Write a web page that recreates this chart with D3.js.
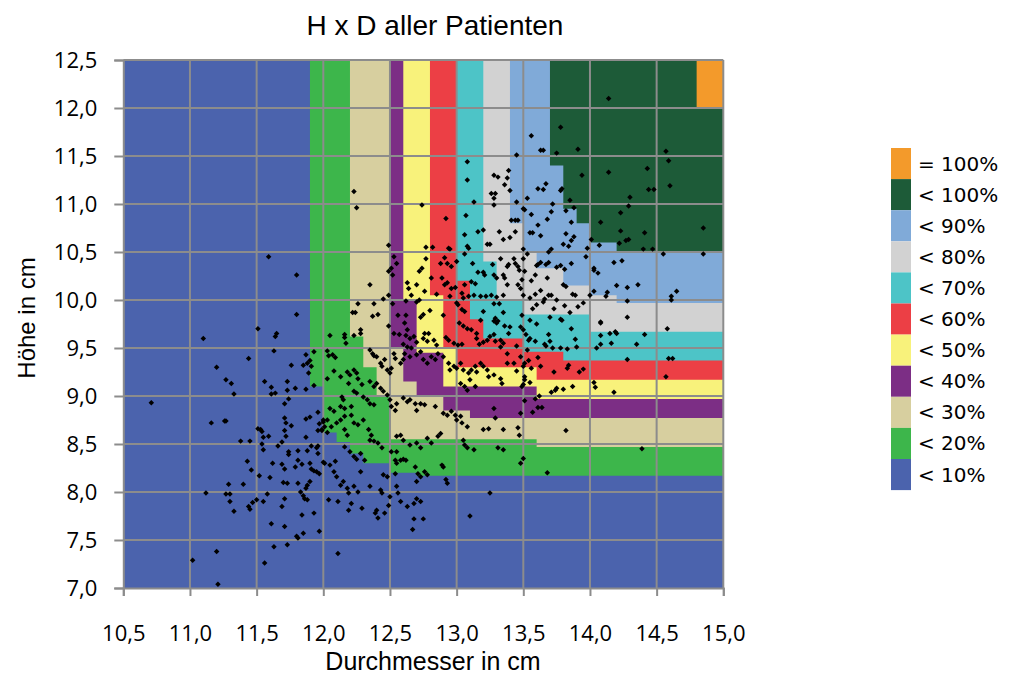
<!DOCTYPE html>
<html>
<head>
<meta charset="utf-8">
<script src="https://cdn.jsdelivr.net/npm/d3@7"></script>
<style>
body { margin: 0; background: #fff; }
</style>
</head>
<body>
<div id="chart"></div>
<script>
// achsen
var xTicks = [10.5, 11.0, 11.5, 12.0, 12.5, 13.0, 13.5, 14.0, 14.5, 15.0]
var yTicks = [7.0, 7.5, 8.0, 8.5, 9.0, 9.5, 10.0, 10.5, 11.0, 11.5, 12.0, 12.5]

// legende, von oben nach unten
var legendLabels = ["= 100%", "< 100%", "< 90%", "< 80%", "< 70%", "< 60%", "< 50%", "< 40%", "< 30%", "< 20%", "< 10%"]
var legendColors = ["#f39a2b", "#1d5b38", "#80aad8", "#d2d2d2", "#4dc4c7", "#ec3f45", "#f8f27b", "#7c2e85", "#d7cf9f", "#3db64b", "#4b63ad"]

// grenzen der bereiche (treppen), von oben links nach rechts
var edge20 = [[11.9,12.5],[11.9,9.1],[12.0,9.1],[12.0,8.62],[12.1,8.62],[12.1,8.52],[12.2,8.52],[12.2,8.4],[12.3,8.4],[12.3,8.3],[12.5,8.3],[12.5,8.2],[12.7,8.2],[12.7,8.17],[15,8.17]]
var edge30 = [[12.2,12.5],[12.2,9.62],[12.3,9.62],[12.3,9.3],[12.4,9.3],[12.4,9.0],[12.5,9.0],[12.5,8.55],[13.6,8.55],[13.6,8.47],[15,8.47]]
var edge40 = [[12.5,12.5],[12.5,9.5],[12.6,9.5],[12.6,9.15],[12.7,9.15],[12.7,9.0],[12.9,9.0],[12.9,8.85],[13.1,8.85],[13.1,8.77],[15,8.77]]
var edge50 = [[12.6,12.5],[12.6,10.0],[12.7,10.0],[12.7,9.45],[12.9,9.45],[12.9,9.1],[13.6,9.1],[13.6,8.97],[15,8.97]]
var edge60 = [[12.8,12.5],[12.8,10.05],[12.9,10.05],[12.9,9.5],[13.0,9.5],[13.0,9.3],[13.6,9.3],[13.6,9.17],[15,9.17]]
var edge70 = [[13.0,12.5],[13.0,10.2],[13.1,10.2],[13.1,9.8],[13.2,9.8],[13.2,9.6],[13.5,9.6],[13.5,9.46],[13.8,9.46],[13.8,9.37],[15,9.37]]
var edge80 = [[13.2,12.5],[13.2,10.4],[13.3,10.4],[13.3,10.0],[13.5,10.0],[13.5,9.85],[14.0,9.85],[14.0,9.67],[15,9.67]]
var edge90 = [[13.4,12.5],[13.4,10.8],[13.5,10.8],[13.5,10.5],[13.6,10.5],[13.6,10.33],[13.8,10.33],[13.8,10.15],[14.0,10.15],[14.0,10.05],[14.2,10.05],[14.2,9.97],[15,9.97]]
var edge100 = [[13.7,12.5],[13.7,11.4],[13.8,11.4],[13.8,10.95],[13.9,10.95],[13.9,10.8],[14.0,10.8],[14.0,10.6],[14.2,10.6],[14.2,10.5],[15,10.5]]
var edgeFull = [[14.8,12.5],[14.8,12.0],[15,12.0]]

// patienten: [durchmesser, hoehe]
var patients = [
[11.59,10.45],[11.80,10.26],[11.80,9.85],
[11.10,9.60],[11.51,9.70],[11.65,9.65],[11.64,9.62],[11.63,9.47],[11.44,9.39],[11.20,9.30],[11.27,9.17],[11.31,9.13],[11.33,9.02],[11.56,9.15],[11.61,9.09],[11.64,9.03],[11.61,9.02],[11.73,9.15],[11.73,9.06],[11.79,9.08],[11.76,9.32],[11.87,9.43],[11.85,9.32],[11.88,9.34],[11.90,9.37],[11.91,9.31],[11.89,9.24],[11.93,9.46],[11.93,9.11],[11.87,9.07],[11.74,8.97],[11.71,8.92],[10.71,8.93],[11.16,8.72],[11.26,8.74],[11.27,8.74],[11.51,8.66],[11.53,8.65],[11.54,8.63],[11.55,8.57],[11.59,8.58],[11.38,8.53],[11.45,8.53],[11.54,8.50],[11.55,8.44],[11.66,8.48],[11.69,8.52],[11.71,8.77],[11.72,8.72],[11.71,8.64],[11.72,8.58],[11.76,8.69],[11.87,8.76],[11.90,8.78],[11.87,8.57],[11.96,8.83],[11.97,8.71],[12.00,8.75],[11.96,8.64],[11.99,8.64],[12.03,8.62],[11.91,8.48],[11.88,8.43],[11.95,8.46],[11.96,8.48],[11.96,8.40],[11.81,8.43],[11.74,8.42],[11.74,8.39],[11.79,8.26],[11.81,8.33],[11.84,8.29],[11.90,8.30],[11.91,8.24],[11.93,8.22],[11.95,8.21],[11.97,8.19],[12.00,8.31],[11.62,8.30],[11.69,8.29],[11.71,8.24],[11.43,8.32],[11.46,8.23],[11.52,8.17],[11.60,8.15],[11.70,8.10],[11.73,8.09],[11.81,8.09],[11.88,8.07],[11.90,8.11],[11.87,8.04],[11.83,8.00],[11.85,7.96],[11.88,7.92],[11.86,7.93],[11.29,8.08],[11.40,8.08],[11.12,7.99],[11.27,7.98],[11.30,7.98],[11.30,7.90],[11.33,7.80],[11.44,7.85],[11.45,7.82],[11.47,7.89],[11.50,7.92],[11.55,7.90],[11.58,7.98],[11.71,7.93],[11.69,7.85],[11.84,7.76],[11.93,7.78],[11.61,7.67],[11.71,7.64],[11.80,7.54],[11.81,7.52],[11.85,7.57],[11.97,7.59],[11.73,7.45],[11.63,7.43],[11.20,7.38],[11.02,7.29],[11.56,7.26],[11.21,7.04],
[12.28,9.69],[12.28,9.65],[12.23,9.63],[12.16,9.64],[12.16,9.61],[12.05,9.63],[12.17,9.55],[12.03,9.47],[12.07,9.43],[12.09,9.40],[12.04,9.42],
[12.49,9.73],[12.61,9.76],[12.53,9.65],[12.57,9.64],[12.63,9.69],[12.62,9.63],[12.65,9.60],[12.68,9.62],[12.70,9.56],[12.60,9.54],[12.63,9.51],[12.66,9.50],[12.76,9.65],[12.79,9.65],[12.75,9.60],[12.78,9.57],[12.83,9.58],[12.85,9.53],[12.92,9.61],[12.94,9.58],[12.98,9.55],[13.01,9.53],[13.04,9.54],[13.02,9.76],[13.05,9.73],[13.08,9.70],[13.11,9.69],[13.15,9.65],[13.15,9.60],[13.17,9.54],[13.20,9.56],[13.23,9.58],[13.25,9.62],[13.28,9.64],[13.29,9.57],[13.33,9.58],[13.35,9.55],[13.39,9.65],[13.45,9.52],[13.36,9.73],[13.40,9.72],[13.48,9.72],[13.50,9.69],[13.28,9.78],[13.30,9.76],[13.33,9.51],[13.38,9.44],[13.38,9.34],[13.43,9.34],[13.48,9.41],[13.50,9.31],[13.45,9.26],[13.53,9.48],[13.54,9.58],
[12.35,9.48],[12.37,9.44],[12.38,9.42],[12.40,9.41],[12.43,9.34],[12.44,9.31],[12.46,9.38],[12.48,9.27],[12.50,9.24],[12.51,9.29],[12.53,9.44],[12.54,9.39],[12.58,9.34],[12.60,9.38],[12.61,9.44],[12.65,9.41],[12.70,9.43],[12.73,9.46],[12.75,9.38],[12.78,9.34],[12.81,9.41],[12.84,9.38],[12.86,9.44],[12.90,9.41],[12.94,9.34],[12.95,9.27],[12.98,9.31],[13.00,9.29],[13.03,9.34],[13.05,9.27],[13.09,9.24],[13.11,9.27],[13.14,9.31],[13.15,9.25],[13.18,9.34],[13.20,9.31],[13.23,9.27],[13.24,9.20],[13.28,9.22],[13.33,9.18],[13.34,9.13],[13.10,9.17],[13.06,9.10],[13.03,9.13],[13.08,9.06],[13.14,9.10],
[12.35,9.15],[12.38,9.10],[12.40,9.13],[12.43,9.08],[12.45,9.05],[12.48,9.01],[12.50,8.96],[12.51,8.89],[12.54,8.85],[12.55,8.92],[12.60,8.98],[12.63,8.94],[12.65,8.96],[12.69,8.92],[12.70,8.85],[12.73,8.92],[12.76,8.91],[12.84,8.89],[12.90,8.82],[12.93,8.80],[12.96,8.84],[12.99,8.80],[13.00,8.75],[13.03,8.79],[13.04,8.72],[13.08,8.68],[13.05,8.54],[13.06,8.49],[13.08,8.46],[13.13,8.44],[13.20,8.65],[13.24,8.66],[13.35,8.65],[13.46,8.67],[13.47,8.59],[13.31,8.46],[13.35,8.44],[13.48,8.30],[13.50,8.35],[13.28,8.87],[13.29,8.77],[13.48,8.82],
[12.03,9.18],[12.08,9.26],[12.13,9.20],[12.18,9.25],[12.20,9.22],[12.23,9.27],[12.25,9.24],[12.26,9.18],[12.19,9.13],[12.23,9.05],[12.25,9.03],[12.29,9.12],[12.30,8.99],[12.33,8.96],[12.35,8.92],[12.38,8.91],[12.14,8.99],[12.15,8.96],[12.13,8.89],[12.16,8.87],[12.21,8.89],[12.08,8.84],[12.05,8.87],[12.03,8.75],[12.00,8.73],[11.99,8.65],[12.01,8.68],[12.06,8.68],[12.10,8.72],[12.13,8.75],[12.16,8.79],[12.21,8.80],[12.23,8.72],[12.26,8.70],[12.30,8.75],[12.34,8.65],[12.36,8.59],[12.38,8.53],[12.41,8.51],[12.44,8.46],[12.35,8.54],[12.16,8.65],[12.18,8.59],[12.16,8.47],[12.20,8.42],[12.23,8.37],[12.25,8.34],[12.28,8.40],[12.31,8.33],[12.01,8.30],[12.05,8.28],[12.09,8.32],[12.08,8.21],[12.10,8.16],[12.13,8.07],[12.15,8.11],[12.18,8.04],[12.19,7.99],[12.23,8.06],[12.26,8.00],[12.28,8.21],[12.35,8.06],[12.43,8.02],[12.44,7.99],[12.45,8.18],[12.48,8.16],[12.50,7.95],[12.54,8.19],[12.55,8.06],[12.56,7.99],[12.46,7.78],[12.40,7.81],[12.39,7.78],[12.41,7.73],[12.29,7.83],[12.21,7.88],[12.19,7.81],[12.11,7.90],[12.04,7.92],[12.11,7.36],[12.49,7.86],[12.58,7.90],[12.63,7.85],[12.68,7.88],[12.70,7.93],[12.73,7.90],[12.68,7.72],[12.75,7.72],[12.67,7.61],[12.55,8.58],[12.58,8.59],[12.60,8.54],[12.65,8.49],[12.70,8.51],[12.73,8.46],[12.78,8.56],[12.55,8.42],[12.51,8.42],[12.54,8.33],[12.55,8.30],[12.58,8.33],[12.60,8.34],[12.62,8.33],[12.69,8.26],[12.71,8.19],[12.73,8.16],[12.76,8.21],[12.78,8.18],[12.70,8.11],[12.89,8.28],[12.90,8.26],[12.92,8.13],[12.93,8.09],[13.25,7.99],[13.10,7.75],[12.81,8.51],[12.86,8.58],[12.88,8.61],
[12.23,11.13],[12.25,10.96],[12.74,10.99],[13.08,11.44],[13.08,11.25],[13.45,11.51],[13.28,11.30],[13.31,11.28],[13.39,11.35],[13.38,11.27],[13.36,11.20],[13.40,11.14],[13.26,11.11],[13.29,11.11],[13.28,11.06],[13.28,10.99],[13.13,11.02],[13.45,11.02],[13.50,10.95],[13.51,10.94],[13.53,11.06],[13.07,10.88],[12.92,10.85],[13.20,10.73],[13.16,10.71],[13.06,10.68],[13.41,10.83],[13.44,10.83],[13.46,10.83],[13.32,10.71],[13.35,10.63],[13.40,10.65],[13.44,10.71],[13.23,10.58],[13.25,10.58],[13.08,10.56],[13.09,10.54],[13.06,10.48],[13.12,10.38],[12.49,10.57],[12.77,10.55],[12.82,10.55],[12.94,10.54],[12.95,10.53],[12.53,10.45],[12.55,10.38],[12.51,10.33],[12.49,10.30],[12.77,10.43],[12.74,10.33],[12.72,10.30],[12.91,10.44],[12.88,10.38],[12.93,10.38],[12.96,10.35],[13.00,10.40],[12.52,10.26],[12.35,10.16],[12.63,10.18],[12.70,10.16],[12.64,10.12],[12.81,10.23],[12.89,10.23],[12.91,10.16],[12.93,10.18],[12.96,10.12],[12.99,10.13],[13.04,10.07],[13.06,10.16],[13.11,10.19],[13.14,10.17],[13.16,10.29],[13.20,10.29],[13.21,10.26],[13.27,10.37],[13.28,10.26],[13.33,10.43],[13.38,10.35],[13.39,10.37],[13.44,10.38],[13.46,10.35],[13.47,10.31],[13.30,10.23],[13.35,10.26],[13.36,10.23],[13.38,10.16],[13.46,10.16],[13.49,10.21],[13.48,10.12],[13.09,10.04],[13.05,10.02],[13.13,10.05],[13.18,10.04],[13.22,10.04],[13.26,10.05],[13.30,10.03],[13.32,9.96],[13.35,10.05],[13.50,10.05],[13.50,10.43],[13.43,10.43],[13.50,10.53],[12.26,9.96],[12.22,9.87],[12.24,9.87],[12.37,9.83],[12.41,9.85],[12.38,9.96],[12.45,10.01],[12.49,10.05],[12.52,9.96],[12.56,9.84],[12.62,9.84],[12.62,9.99],[12.66,10.05],[12.70,9.98],[12.72,10.00],[12.76,10.09],[12.75,9.85],[12.73,9.82],[12.80,9.89],[12.85,10.06],[12.90,9.84],[13.00,9.97],[13.04,9.90],[13.06,9.88],[13.20,9.88],[13.18,9.79],[13.28,9.96],[13.29,9.81],[13.31,9.78],[13.35,9.87],[13.49,9.84],[13.01,9.95],[12.95,10.04],
[14.14,12.10],[13.78,11.80],[13.56,11.71],[13.63,11.56],[13.65,11.56],[13.75,11.53],[13.91,11.57],[14.57,11.55],[14.59,11.45],[13.94,11.30],[14.14,11.33],[14.43,11.37],[14.60,11.19],[14.44,11.15],[14.48,11.15],[13.61,11.16],[13.65,11.15],[13.67,11.21],[13.78,11.14],[13.79,11.16],[13.85,11.04],[14.30,11.07],[14.29,10.98],[13.72,11.00],[13.56,10.89],[13.71,10.92],[13.68,10.84],[13.82,10.93],[13.88,10.96],[14.23,10.91],[14.08,10.81],[13.86,10.81],[13.61,10.78],[13.55,10.70],[13.57,10.70],[13.63,10.67],[13.82,10.69],[13.88,10.66],[13.86,10.62],[13.80,10.58],[13.84,10.56],[14.01,10.63],[14.07,10.57],[14.23,10.72],[14.22,10.59],[14.27,10.62],[14.29,10.63],[14.41,10.70],[14.40,10.53],[14.47,10.53],[14.55,10.48],[14.85,10.75],[14.85,10.48],[13.53,10.48],[13.71,10.53],[13.69,10.50],[13.98,10.54],[13.97,10.45],[14.18,10.39],[14.24,10.41],[13.61,10.37],[13.63,10.39],[13.67,10.37],[13.69,10.39],[13.60,10.36],[13.75,10.34],[13.78,10.36],[13.81,10.32],[13.86,10.38],[14.03,10.31],[14.06,10.28],[14.03,10.33],[13.51,10.30],[13.59,10.26],[13.56,10.20],[13.68,10.23],[13.80,10.16],[13.82,10.14],[14.20,10.15],[14.28,10.13],[14.36,10.16],[14.65,10.09],[14.61,10.04],[14.61,10.00],[13.59,10.06],[13.55,10.02],[13.63,10.10],[13.66,10.01],[13.69,10.05],[13.71,10.05],[13.87,10.06],[13.89,10.05],[14.00,10.05],[14.03,10.09],[14.12,10.04],[14.13,10.08],[14.28,9.99],[13.75,10.00],[13.60,9.95],[13.65,9.98],[13.57,9.91],[13.73,9.91],[13.81,9.94],[13.85,9.87],[13.91,9.93],[13.95,9.97],[13.55,9.79],[13.70,9.82],[13.78,9.80],[14.08,9.77],[14.28,9.82],
[13.60,9.75],[13.79,9.79],[13.86,9.70],[14.08,9.76],[14.08,9.63],[14.08,9.54],[14.16,9.55],[14.15,9.65],[14.19,9.67],[14.20,9.65],[14.35,9.54],[14.41,9.64],[14.58,9.70],[13.52,9.64],[13.55,9.60],[13.59,9.57],[13.66,9.54],[13.67,9.52],[13.70,9.57],[13.69,9.64],[13.72,9.50],[13.78,9.50],[13.83,9.49],[13.89,9.59],[13.90,9.51],[14.05,9.50],[14.28,9.38],[14.59,9.39],[14.62,9.39],[13.61,9.40],[13.63,9.31],[13.54,9.37],[13.51,9.34],[13.56,9.29],[13.73,9.25],[13.83,9.29],[13.84,9.32],[13.92,9.25],[13.95,9.28],[13.51,9.20],[13.51,9.17],[13.50,9.12],[13.49,9.10],[13.55,9.14],[14.03,9.14],[14.04,9.09],[14.18,9.04],[13.87,9.10],[13.75,9.08],[13.74,9.06],[13.71,9.04],[13.80,9.07],[14.57,9.20],[13.62,9.00],[13.59,8.97],[13.51,8.95],[13.61,8.88],[13.64,8.88],[13.57,8.83],[13.82,8.64],[14.39,8.45],[13.68,8.20]
]

var W = 1013, H = 675
var plotLeft = 123.3, plotTop = 60, plotW = 600, plotH = 528

var svg = d3.select('#chart').append('svg')
  .attr('width', W)
  .attr('height', H)

var x = d3.scaleLinear().domain([10.5, 15]).range([plotLeft, plotLeft + plotW])
var y = d3.scaleLinear().domain([7, 12.5]).range([plotTop + plotH, plotTop])

var de = d3.formatLocale({decimal: ",", thousands: ".", grouping: [3], currency: ["", " €"]})
var fmt = de.format(".1f")

// hintergrund (< 10%)
svg.append('rect')
  .attr('x', x(10.5))
  .attr('y', y(12.5))
  .attr('width', x(15) - x(10.5))
  .attr('height', y(7) - y(12.5))
  .attr('fill', legendColors[10])

// bereiche, von unten nach oben uebermalen
var edges = [edge20, edge30, edge40, edge50, edge60, edge70, edge80, edge90, edge100, edgeFull]
var line = d3.line().x(function(d) { return x(d[0]) }).y(function(d) { return y(d[1]) })

svg.append('g').selectAll('path')
  .data(edges)
  .enter().append('path')
  .attr('d', function(d) { return line(d.concat([[15, 12.5]])) + 'Z' })
  .attr('fill', function(d, i) { return legendColors[9 - i] })

// gitter
var grid = svg.append('g')
grid.selectAll('line.v')
  .data(xTicks.slice(1))
  .enter().append('line')
  .attr('class', 'v')
  .attr('x1', function(d) { return x(d) })
  .attr('x2', function(d) { return x(d) })
  .attr('y1', y(12.5))
  .attr('y2', y(7))
  .attr('stroke', '#8c8c8c')
  .attr('stroke-width', 2)
grid.selectAll('line.h')
  .data(yTicks.slice(1))
  .enter().append('line')
  .attr('class', 'h')
  .attr('x1', x(10.5))
  .attr('x2', x(15))
  .attr('y1', function(d) { return y(d) })
  .attr('y2', function(d) { return y(d) })
  .attr('stroke', '#8c8c8c')
  .attr('stroke-width', 2)

// achsen
var ax = svg.append('g')
  .attr('transform', 'translate(0,' + y(7) + ')')
  .call(d3.axisBottom(x).tickValues(xTicks).tickSize(8).tickPadding(29).tickFormat(fmt))
var ay = svg.append('g')
  .attr('transform', 'translate(' + x(10.5) + ',0)')
  .call(d3.axisLeft(y).tickValues(yTicks).tickSize(9).tickPadding(17).tickFormat(fmt))

svg.selectAll('.domain, .tick line')
  .attr('stroke', '#8c8c8c')
  .attr('stroke-width', 2)
svg.selectAll('.tick text')
  .attr('fill', '#000')
  .style('font-family', '"Open Sans", sans-serif')
  .style('font-size', '22px')
ay.selectAll('.tick text').attr('dy', '0.36em')

// punkte
svg.append('g').selectAll('path')
  .data(patients)
  .enter().append('path')
  .attr('d', d3.symbol(d3.symbolSquare, 15))
  .attr('transform', function(d) { return 'translate(' + x(d[0]) + ',' + y(d[1]) + ') rotate(45)' })
  .attr('fill', '#000')

// texte
svg.append('text')
  .attr('x', 435)
  .attr('y', 35)
  .attr('text-anchor', 'middle')
  .style('font-family', '"Liberation Sans", Arial, sans-serif')
  .style('font-size', '28px')
  .text('H x D aller Patienten')

svg.append('text')
  .attr('x', 433)
  .attr('y', 670)
  .attr('text-anchor', 'middle')
  .style('font-family', '"Liberation Sans", Arial, sans-serif')
  .style('font-size', '25px')
  .text('Durchmesser in cm')

svg.append('text')
  .attr('transform', 'translate(35,318) rotate(-90)')
  .attr('text-anchor', 'middle')
  .style('font-family', '"Liberation Sans", Arial, sans-serif')
  .style('font-size', '24px')
  .text('Höhe in cm')

// legende
var leg = svg.append('g').selectAll('g')
  .data(legendLabels)
  .enter().append('g')
  .attr('transform', function(d, i) { return 'translate(891,' + (148 + i * 31.1) + ')' })
leg.append('rect')
  .attr('width', 20)
  .attr('height', 31.1)
  .attr('fill', function(d, i) { return legendColors[i] })
leg.append('text')
  .attr('x', 27)
  .attr('y', 15.5)
  .attr('dy', '0.35em')
  .style('font-family', '"DejaVu Sans", Verdana, sans-serif')
  .style('font-size', '20px')
  .text(function(d) { return d })
</script>
</body>
</html>
